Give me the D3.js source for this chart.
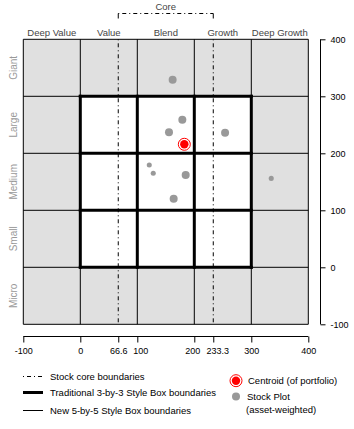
<!DOCTYPE html>
<html>
<head>
<meta charset="utf-8">
<script src="https://cdn.jsdelivr.net/npm/d3@7"></script>
<style>
  body { margin: 0; background: #fff; }
  svg text { font-family: "Liberation Sans", Arial, sans-serif; }
</style>
</head>
<body>
<div id="chart"></div>
<script>
// style box data
let styleLabels = ["Deep Value", "Value", "Blend", "Growth", "Deep Growth"];
let sizeLabels = ["Micro", "Small", "Medium", "Large", "Giant"];
let gridBreaks = [-100, 0, 100, 200, 300, 400];
let coreBounds = [66.6, 233.3];
let xTicks = [-100, 0, 66.6, 100, 200, 233.3, 300, 400];
let yTicks = [-100, 0, 100, 200, 300, 400];

// stock plot (asset-weighted)
let stockX = [162, 179, 155.6, 254, 121, 128, 184.9, 335, 163.8];
let stockY = [329, 259, 237, 236, 179.5, 165, 162, 156, 120.4];
let stockWeight = [2, 2, 2, 2, 0.8, 0.8, 2, 0.8, 2];
let centroid = [182.5, 215.8];

let width = 354, height = 429;

let svg = d3.select("#chart")
    .append("svg")
        .attr("width", width)
        .attr("height", height);

let x = d3.scaleLinear().domain([-100, 400]).range([23.3, 308.3]);
let y = d3.scaleLinear().domain([-100, 400]).range([324.3, 39.3]);
let r = d3.scaleSqrt().domain([0, 2]).range([0, 4]);

let dotdash = "1,3,4,3";

// cells: grey outer ring, white 3x3 core
let cells = [];
for (let i = 0; i < 5; i++){
    for (let j = 0; j < 5; j++){
        cells.push({i: i, j: j});
    }
}
svg.selectAll(".cell")
    .data(cells)
    .enter()
    .append("rect")
        .attr("x", d => x(gridBreaks[d.i]))
        .attr("y", d => y(gridBreaks[d.j + 1]))
        .attr("width", d => x(gridBreaks[d.i + 1]) - x(gridBreaks[d.i]))
        .attr("height", d => y(gridBreaks[d.j]) - y(gridBreaks[d.j + 1]))
        .attr("fill", d => (d.i >= 1 && d.i <= 3 && d.j >= 1 && d.j <= 3) ? "#ffffff" : "#e0e0e0");

// 5-by-5 thin lines
svg.selectAll(".vthin")
    .data(gridBreaks)
    .enter()
    .append("line")
        .attr("x1", d => x(d)).attr("x2", d => x(d))
        .attr("y1", y(-100)).attr("y2", y(400))
        .attr("stroke", "#000").attr("stroke-width", 1);
svg.selectAll(".hthin")
    .data(gridBreaks)
    .enter()
    .append("line")
        .attr("y1", d => y(d)).attr("y2", d => y(d))
        .attr("x1", x(-100)).attr("x2", x(400))
        .attr("stroke", "#000").attr("stroke-width", 1);

// core boundaries (inside the plot)
svg.selectAll(".core")
    .data(coreBounds)
    .enter()
    .append("line")
        .attr("x1", d => x(d)).attr("x2", d => x(d))
        .attr("y1", y(400)).attr("y2", y(-100))
        .attr("stroke", "#000").attr("stroke-width", 1)
        .attr("stroke-dasharray", dotdash);
// core bracket above the column labels
svg.selectAll(".core-tick")
    .data(coreBounds)
    .enter()
    .append("line")
        .attr("x1", d => x(d)).attr("x2", d => x(d))
        .attr("y1", 13.5).attr("y2", 18.5)
        .attr("stroke", "#000").attr("stroke-width", 1);
svg.append("line")
    .attr("x1", x(coreBounds[0])).attr("x2", x(coreBounds[1]))
    .attr("y1", 13.5).attr("y2", 13.5)
    .attr("stroke", "#000").attr("stroke-width", 1)
    .attr("stroke-dasharray", dotdash);
svg.append("text")
    .attr("x", x(d3.mean(coreBounds))).attr("y", 10)
    .attr("text-anchor", "middle")
    .style("font-size", "9.5px").attr("fill", "#444")
    .text("Core");

// traditional 3-by-3 thick lines
let thick = [0, 100, 200, 300];
svg.selectAll(".vthick")
    .data(thick)
    .enter()
    .append("line")
        .attr("x1", d => x(d)).attr("x2", d => x(d))
        .attr("y1", y(0)).attr("y2", y(300))
        .attr("stroke", "#000").attr("stroke-width", 3)
        .attr("stroke-linecap", "square");
svg.selectAll(".hthick")
    .data(thick)
    .enter()
    .append("line")
        .attr("y1", d => y(d)).attr("y2", d => y(d))
        .attr("x1", x(0)).attr("x2", x(300))
        .attr("stroke", "#000").attr("stroke-width", 3)
        .attr("stroke-linecap", "square");

// column and row labels
svg.selectAll(".style-label")
    .data(styleLabels)
    .enter()
    .append("text")
        .attr("x", (d, i) => x((gridBreaks[i] + gridBreaks[i + 1]) / 2))
        .attr("y", 36)
        .attr("text-anchor", "middle")
        .style("font-size", "9.5px").attr("fill", "#444")
        .text(d => d);
svg.selectAll(".size-label")
    .data(sizeLabels)
    .enter()
    .append("text")
        .attr("transform", (d, i) => "translate(17," + y((gridBreaks[i] + gridBreaks[i + 1]) / 2) + ") rotate(-90)")
        .attr("text-anchor", "middle")
        .style("font-size", "10px").attr("fill", "#999")
        .text(d => d);

// stocks
let stocks = stockX.map((v, i) => ({x: v, y: stockY[i], w: stockWeight[i]}));
svg.selectAll(".stock")
    .data(stocks)
    .enter()
    .append("circle")
        .attr("cx", d => x(d.x))
        .attr("cy", d => y(d.y))
        .attr("r", d => r(d.w))
        .attr("fill", "#999");

// centroid
svg.append("circle")
    .attr("cx", x(centroid[0])).attr("cy", y(centroid[1]))
    .attr("r", 6).attr("fill", "none").attr("stroke", "red").attr("stroke-width", 1);
svg.append("circle")
    .attr("cx", x(centroid[0])).attr("cy", y(centroid[1]))
    .attr("r", 4.2).attr("fill", "red");

// axes
let bottom = svg.append("g")
    .attr("transform", "translate(0,336.5)")
    .call(d3.axisBottom(x).tickValues(xTicks).tickSize(6).tickPadding(5)
        .tickFormat(d => String(d)));
bottom.select(".domain").attr("d", "M" + x(-100) + ",0H" + x(400));
bottom.selectAll("text")
    .style("font-size", "9px").style("font-family", "Liberation Sans, Arial, sans-serif")
    .attr("dx", d => d == 100 ? 3 : d == 200 ? -2 : d == 233.3 ? 4 : 0);

let right = svg.append("g")
    .attr("transform", "translate(320.5,0)")
    .call(d3.axisRight(y).tickValues(yTicks).tickSize(5).tickPadding(5)
        .tickFormat(d => String(d)));
right.select(".domain").attr("d", "M0," + y(400) + "V" + y(-100));
right.selectAll("text").style("font-size", "9px").style("font-family", "Liberation Sans, Arial, sans-serif");

// legend
let lg = svg.append("g");
lg.append("line").attr("x1", 23).attr("x2", 43).attr("y1", 376.5).attr("y2", 376.5)
    .attr("stroke", "#000").attr("stroke-dasharray", dotdash);
lg.append("line").attr("x1", 23).attr("x2", 43).attr("y1", 392.5).attr("y2", 392.5)
    .attr("stroke", "#000").attr("stroke-width", 3);
lg.append("line").attr("x1", 23).attr("x2", 43).attr("y1", 410.5).attr("y2", 410.5)
    .attr("stroke", "#000").attr("stroke-width", 1);
let legendText = ["Stock core boundaries", "Traditional 3-by-3 Style Box boundaries", "New 5-by-5 Style Box boundaries"];
let legendY = [380, 396, 414];
lg.selectAll(".lt")
    .data(legendText)
    .enter()
    .append("text")
        .attr("x", 50).attr("y", (d, i) => legendY[i])
        .style("font-size", "9.5px")
        .text(d => d);

lg.append("circle").attr("cx", 236).attr("cy", 380.7).attr("r", 6)
    .attr("fill", "none").attr("stroke", "red");
lg.append("circle").attr("cx", 236).attr("cy", 380.7).attr("r", 4.2).attr("fill", "red");
lg.append("circle").attr("cx", 236).attr("cy", 396.5).attr("r", 4).attr("fill", "#999");
lg.append("text").attr("x", 248).attr("y", 384).style("font-size", "9.5px").text("Centroid (of portfolio)");
lg.append("text").attr("x", 247).attr("y", 400).style("font-size", "9.5px").text("Stock Plot");
lg.append("text").attr("x", 246).attr("y", 413).style("font-size", "9.5px").text("(asset-weighted)");
</script>
</body>
</html>
